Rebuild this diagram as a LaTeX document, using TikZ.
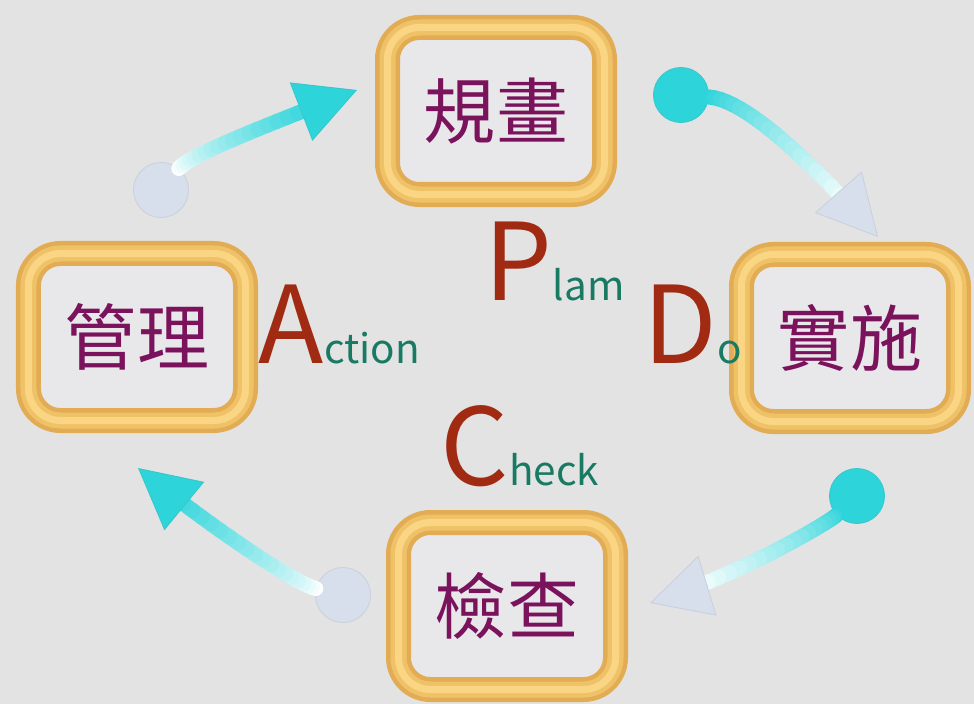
\documentclass[tikz,border=0pt]{standalone}
\usepackage{fontspec}
\setmainfont{Noto Sans CJK TC}
\usetikzlibrary{positioning,arrows.meta,calc}

\definecolor{bgGray}{RGB}{227,227,227}
\definecolor{boxFill}{RGB}{232,232,235}
\definecolor{frameGold}{RGB}{226,172,84}
\definecolor{frameMid}{RGB}{240,194,104}
\definecolor{frameLight}{RGB}{250,214,132}
\definecolor{cjkPurple}{RGB}{122,18,92}
\definecolor{capRed}{RGB}{160,42,18}
\definecolor{tailTeal}{RGB}{25,122,100}
\definecolor{flowCyan}{RGB}{45,212,218}
\definecolor{flowPale}{RGB}{214,223,235}

\tikzset{
  stage/.style={rectangle, rounded corners=6.4mm, draw=frameGold, line width=5mm,
    fill=boxFill, minimum width=43.4mm, minimum height=33.4mm, inner sep=0pt,
    postaction={draw=frameMid, line width=3.2mm},
    postaction={draw=frameLight, line width=1.4mm},
    text=cjkPurple, font=\fontsize{41}{41}\selectfont},
  bigcap/.style={inner sep=0pt, anchor=base west, text=capRed, font=\fontsize{61}{61}\selectfont},
  tailtext/.style={inner sep=0pt, anchor=base west, text=tailTeal, font=\fontsize{23}{23}\selectfont},
  knob/.style={circle, minimum size=11mm, inner sep=0pt, draw=#1!85!gray, line width=0.5pt, fill=#1},
  shaft/.style={line width=3mm, line cap=round},
  headtip/.style={line width=0.5pt, draw=#1!85!gray, -{Triangle[length=12mm, width=12.5mm, fill=#1]}}
}

% #1 knob, #2 #3 controls, #4 tip, #5 start colour, #6 end colour, #7 head colour
\newcommand{\flowarrow}[7]{%
  \path (#1) .. controls #2 and #3 .. (#4)
    foreach \k in {0,...,20} {coordinate[pos=0.043*\k] (q\k)};
  \foreach \k [evaluate=\k as \m using int(\k+1), evaluate=\k as \w using int(5*\k)] in {0,...,19}
    \draw[shaft, draw=#6!\w!#5] (q\k) -- (q\m);
  \draw[headtip=#7] ($(#4)!12mm!#3$) -- (#4);
}

\begin{document}
\begin{tikzpicture}[x=0.2mm, y=-0.2mm]
  \fill[bgGray, use as bounding box] (0,0) rectangle (974,704);

  % Stages
  \node[stage] (plan) at (496,111) {規畫};
  \node[stage] (do) at (850,338) {實施};
  \node[stage] (check) at (507,606) {檢查};
  \node[stage] (act) at (137,337) {管理};

  % Initials
  \node[bigcap] (P) at (484,300) {P};
  \node[tailtext] (Plam) at (P.base east) {lam};
  \node[bigcap] (D) at (643,363) {D};
  \node[tailtext] (Do) at (D.base east) {o};
  \node[bigcap] (C) at (440,485) {C};
  \node[tailtext] (Check) at (C.base east) {heck};
  \node[bigcap] (A) at (258,363) {A};
  \node[tailtext] (Action) at (A.base east) {ction};

  % Arrows
  \node[knob=flowPale] (actKnob) at (161,190) {};
  \node[knob=flowCyan] (planKnob) at (681,95) {};
  \node[knob=flowCyan] (doKnob) at (857,496) {};
  \node[knob=flowPale] (checkKnob) at (343,595) {};
  \coordinate (toPlan) at (357,90);
  \coordinate (toDo) at (878,237);
  \coordinate (toCheck) at (650,603);
  \coordinate (toAct) at (138,468);

  \flowarrow{actKnob}{(190,155)}{(264,126)}{toPlan}{white}{flowCyan}{flowCyan}
  \flowarrow{planKnob}{(750,100)}{(825,177)}{toDo}{flowCyan}{white}{flowPale}
  \flowarrow{doKnob}{(828,523)}{(736,577)}{toCheck}{flowCyan}{white}{flowPale}
  \flowarrow{checkKnob}{(293,583)}{(200,519)}{toAct}{white}{flowCyan}{flowCyan}
\end{tikzpicture}
\end{document}
